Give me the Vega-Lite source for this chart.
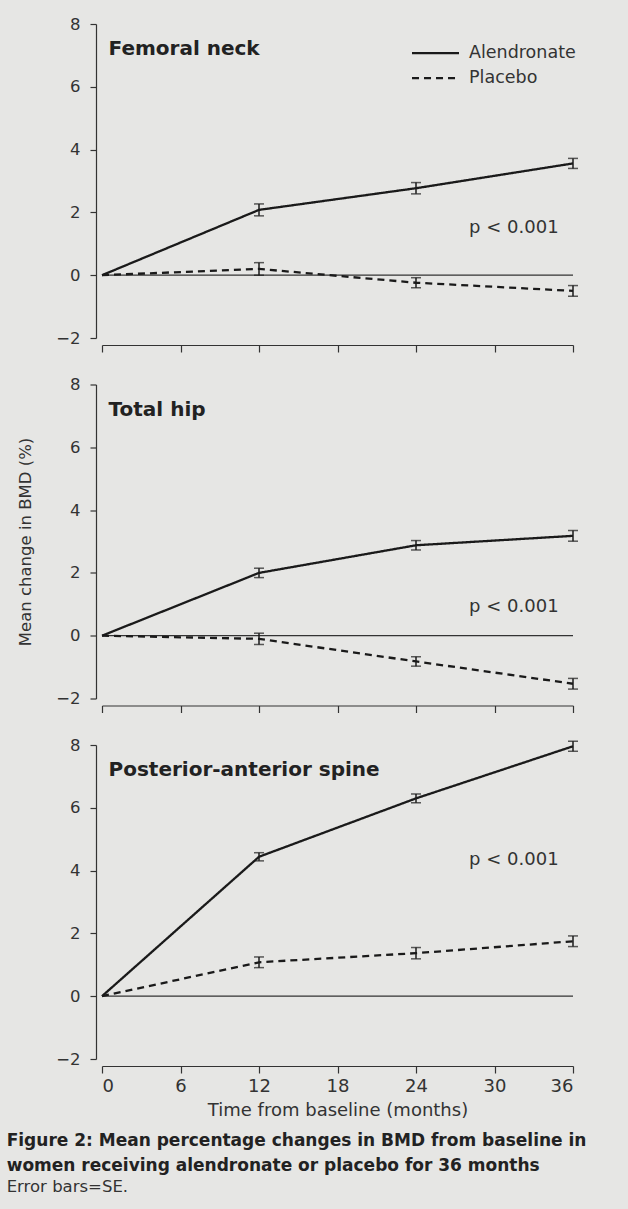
{
  "$schema": "https://vega.github.io/schema/vega-lite/v6.json",
  "background": "#e6e6e4",
  "padding": {"left": 6, "top": 16, "right": 42, "bottom": 15},
  "bounds": "flush",
  "spacing": 46.5,
  "datasets": {
    "bmd": [
      {"site": "Femoral neck", "group": "Alendronate", "month": 0, "mean": 0, "se": 0},
      {"site": "Femoral neck", "group": "Alendronate", "month": 12, "mean": 2.08, "se": 0.19},
      {"site": "Femoral neck", "group": "Alendronate", "month": 24, "mean": 2.77, "se": 0.18},
      {"site": "Femoral neck", "group": "Alendronate", "month": 36, "mean": 3.56, "se": 0.16},
      {"site": "Femoral neck", "group": "Placebo", "month": 0, "mean": 0, "se": 0},
      {"site": "Femoral neck", "group": "Placebo", "month": 12, "mean": 0.2, "se": 0.2},
      {"site": "Femoral neck", "group": "Placebo", "month": 24, "mean": -0.24, "se": 0.16},
      {"site": "Femoral neck", "group": "Placebo", "month": 36, "mean": -0.5, "se": 0.17},
      {"site": "Total hip", "group": "Alendronate", "month": 0, "mean": 0, "se": 0},
      {"site": "Total hip", "group": "Alendronate", "month": 12, "mean": 2.0, "se": 0.15},
      {"site": "Total hip", "group": "Alendronate", "month": 24, "mean": 2.88, "se": 0.15},
      {"site": "Total hip", "group": "Alendronate", "month": 36, "mean": 3.18, "se": 0.17},
      {"site": "Total hip", "group": "Placebo", "month": 0, "mean": 0, "se": 0},
      {"site": "Total hip", "group": "Placebo", "month": 12, "mean": -0.1, "se": 0.18},
      {"site": "Total hip", "group": "Placebo", "month": 24, "mean": -0.82, "se": 0.15},
      {"site": "Total hip", "group": "Placebo", "month": 36, "mean": -1.53, "se": 0.17},
      {"site": "Posterior-anterior spine", "group": "Alendronate", "month": 0, "mean": 0, "se": 0},
      {"site": "Posterior-anterior spine", "group": "Alendronate", "month": 12, "mean": 4.44, "se": 0.13},
      {"site": "Posterior-anterior spine", "group": "Alendronate", "month": 24, "mean": 6.3, "se": 0.14},
      {"site": "Posterior-anterior spine", "group": "Alendronate", "month": 36, "mean": 7.96, "se": 0.16},
      {"site": "Posterior-anterior spine", "group": "Placebo", "month": 0, "mean": 0, "se": 0},
      {"site": "Posterior-anterior spine", "group": "Placebo", "month": 12, "mean": 1.08, "se": 0.17},
      {"site": "Posterior-anterior spine", "group": "Placebo", "month": 24, "mean": 1.37, "se": 0.18},
      {"site": "Posterior-anterior spine", "group": "Placebo", "month": 36, "mean": 1.75, "se": 0.17}
    ]
  },
  "title": {
    "text": ["Figure 2: Mean percentage changes in BMD from baseline in", "women receiving alendronate or placebo for 36 months"],
    "subtitle": "Error bars=SE.",
    "orient": "bottom",
    "anchor": "start",
    "frame": "bounds",
    "font": "DejaVu Sans",
    "fontSize": 17,
    "fontWeight": "bold",
    "color": "#222",
    "lineHeight": 25,
    "subtitleFont": "DejaVu Sans",
    "subtitleFontSize": 16.5,
    "subtitleColor": "#333",
    "subtitlePadding": 4,
    "offset": 14,
    "dx": -11
  },
  "config": {
    "view": {"stroke": null},
    "axis": {
      "grid": false,
      "domainColor": "#333",
      "tickColor": "#333",
      "domainWidth": 1.2,
      "tickWidth": 1.2,
      "labelColor": "#333",
      "titleColor": "#333",
      "labelFont": "DejaVu Sans",
      "titleFont": "DejaVu Sans",
      "titleFontWeight": "normal"
    },
    "axisX": {"labelFontSize": 18, "titleFontSize": 18, "tickSize": 7, "offset": 7, "labelPadding": 4, "titlePadding": 6},
    "axisY": {"labelFontSize": 16.5, "titleFontSize": 16.5, "tickSize": 6, "offset": 6, "labelPadding": 10, "titlePadding": 22}
  },
  "resolve": {"scale": {"strokeDash": "independent"}, "legend": {"strokeDash": "independent"}},
  "vconcat": [
    {
      "width": 471, "height": 314,
      "data": {"name": "bmd"},
      "layer": [
        {
          "data": {"values": [{}]},
          "mark": {"type": "rule", "color": "#333", "strokeWidth": 1.2},
          "encoding": {
            "y": {"datum": 0, "type": "quantitative", "scale": {"domain": [-2, 8], "nice": false, "zero": false}, "axis": {"values": [-2, 0, 2, 4, 6, 8], "title": null}}
          }
        },
        {
          "transform": [{"filter": "datum.site === 'Femoral neck'"}],
          "mark": {"type": "line", "color": "#1a1a1a", "strokeWidth": 2.3},
          "encoding": {
            "x": {"field": "month", "type": "quantitative", "scale": {"domain": [0, 36], "nice": false}, "axis": {"values": [0, 6, 12, 18, 24, 30, 36], "labels": false, "title": null}},
            "y": {"field": "mean", "type": "quantitative", "scale": {"domain": [-2, 8], "nice": false, "zero": false}, "axis": {"values": [-2, 0, 2, 4, 6, 8], "title": null}},
            "strokeDash": {
              "field": "group", "type": "nominal",
              "scale": {"domain": ["Alendronate", "Placebo"], "range": [[1, 0], [7, 5]]},
              "legend": {"title": null, "orient": "none", "legendX": 323, "legendY": 18.6, "symbolType": "M-2.5,0H2.5", "symbolSize": 353, "symbolStrokeWidth": 2.2, "symbolStrokeColor": "#1a1a1a", "labelOffset": 23, "labelFontSize": 17.5, "labelFont": "DejaVu Sans", "labelColor": "#333", "rowPadding": 6, "padding": 0}
            }
          }
        },
        {
          "transform": [{"filter": "datum.site === 'Femoral neck' && datum.month > 0"}],
          "mark": {"type": "errorbar", "color": "#1a1a1a", "thickness": 1.5, "ticks": {"size": 10, "thickness": 1.5}},
          "encoding": {
            "x": {"field": "month", "type": "quantitative", "scale": {"domain": [0, 36], "nice": false}, "axis": {"values": [0, 6, 12, 18, 24, 30, 36], "labels": false, "title": null}},
            "y": {"field": "mean", "type": "quantitative", "scale": {"domain": [-2, 8], "nice": false, "zero": false}, "axis": {"values": [-2, 0, 2, 4, 6, 8], "title": null}},
            "yError": {"field": "se"}
          }
        },
        {
          "data": {"values": [{}]},
          "mark": {"type": "text", "text": "Femoral neck", "font": "DejaVu Sans", "fontSize": 20, "fontWeight": "bold", "color": "#222", "align": "left", "baseline": "alphabetic"},
          "encoding": {
            "x": {"datum": 0.5, "type": "quantitative", "scale": {"domain": [0, 36], "nice": false}, "axis": {"values": [0, 6, 12, 18, 24, 30, 36], "labels": false, "title": null}},
            "y": {"datum": 7.0, "type": "quantitative", "scale": {"domain": [-2, 8], "nice": false, "zero": false}, "axis": {"values": [-2, 0, 2, 4, 6, 8], "title": null}}
          }
        },
        {
          "data": {"values": [{}]},
          "mark": {"type": "text", "text": "p < 0.001", "font": "DejaVu Sans", "fontSize": 18, "color": "#333", "align": "left", "baseline": "alphabetic"},
          "encoding": {
            "x": {"datum": 28.06, "type": "quantitative", "scale": {"domain": [0, 36], "nice": false}, "axis": {"values": [0, 6, 12, 18, 24, 30, 36], "labels": false, "title": null}},
            "y": {"datum": 1.33, "type": "quantitative", "scale": {"domain": [-2, 8], "nice": false, "zero": false}, "axis": {"values": [-2, 0, 2, 4, 6, 8], "title": null}}
          }
        }
      ]
    },
    {
      "width": 471, "height": 314,
      "data": {"name": "bmd"},
      "layer": [
        {
          "data": {"values": [{}]},
          "mark": {"type": "rule", "color": "#333", "strokeWidth": 1.2},
          "encoding": {
            "y": {"datum": 0, "type": "quantitative", "scale": {"domain": [-2, 8], "nice": false, "zero": false}, "axis": {"values": [-2, 0, 2, 4, 6, 8], "title": "Mean change in BMD (%)"}}
          }
        },
        {
          "transform": [{"filter": "datum.site === 'Total hip'"}],
          "mark": {"type": "line", "color": "#1a1a1a", "strokeWidth": 2.3},
          "encoding": {
            "x": {"field": "month", "type": "quantitative", "scale": {"domain": [0, 36], "nice": false}, "axis": {"values": [0, 6, 12, 18, 24, 30, 36], "labels": false, "title": null}},
            "y": {"field": "mean", "type": "quantitative", "scale": {"domain": [-2, 8], "nice": false, "zero": false}, "axis": {"values": [-2, 0, 2, 4, 6, 8], "title": "Mean change in BMD (%)"}},
            "strokeDash": {
              "field": "group", "type": "nominal",
              "scale": {"domain": ["Alendronate", "Placebo"], "range": [[1, 0], [7, 5]]},
              "legend": null
            }
          }
        },
        {
          "transform": [{"filter": "datum.site === 'Total hip' && datum.month > 0"}],
          "mark": {"type": "errorbar", "color": "#1a1a1a", "thickness": 1.5, "ticks": {"size": 10, "thickness": 1.5}},
          "encoding": {
            "x": {"field": "month", "type": "quantitative", "scale": {"domain": [0, 36], "nice": false}, "axis": {"values": [0, 6, 12, 18, 24, 30, 36], "labels": false, "title": null}},
            "y": {"field": "mean", "type": "quantitative", "scale": {"domain": [-2, 8], "nice": false, "zero": false}, "axis": {"values": [-2, 0, 2, 4, 6, 8], "title": "Mean change in BMD (%)"}},
            "yError": {"field": "se"}
          }
        },
        {
          "data": {"values": [{}]},
          "mark": {"type": "text", "text": "Total hip", "font": "DejaVu Sans", "fontSize": 20, "fontWeight": "bold", "color": "#222", "align": "left", "baseline": "alphabetic"},
          "encoding": {
            "x": {"datum": 0.5, "type": "quantitative", "scale": {"domain": [0, 36], "nice": false}, "axis": {"values": [0, 6, 12, 18, 24, 30, 36], "labels": false, "title": null}},
            "y": {"datum": 7.0, "type": "quantitative", "scale": {"domain": [-2, 8], "nice": false, "zero": false}, "axis": {"values": [-2, 0, 2, 4, 6, 8], "title": "Mean change in BMD (%)"}}
          }
        },
        {
          "data": {"values": [{}]},
          "mark": {"type": "text", "text": "p < 0.001", "font": "DejaVu Sans", "fontSize": 18, "color": "#333", "align": "left", "baseline": "alphabetic"},
          "encoding": {
            "x": {"datum": 28.06, "type": "quantitative", "scale": {"domain": [0, 36], "nice": false}, "axis": {"values": [0, 6, 12, 18, 24, 30, 36], "labels": false, "title": null}},
            "y": {"datum": 0.77, "type": "quantitative", "scale": {"domain": [-2, 8], "nice": false, "zero": false}, "axis": {"values": [-2, 0, 2, 4, 6, 8], "title": "Mean change in BMD (%)"}}
          }
        }
      ]
    },
    {
      "width": 471, "height": 314,
      "data": {"name": "bmd"},
      "layer": [
        {
          "data": {"values": [{}]},
          "mark": {"type": "rule", "color": "#333", "strokeWidth": 1.2},
          "encoding": {
            "y": {"datum": 0, "type": "quantitative", "scale": {"domain": [-2, 8], "nice": false, "zero": false}, "axis": {"values": [-2, 0, 2, 4, 6, 8], "title": null}}
          }
        },
        {
          "transform": [{"filter": "datum.site === 'Posterior-anterior spine'"}],
          "mark": {"type": "line", "color": "#1a1a1a", "strokeWidth": 2.3},
          "encoding": {
            "x": {"field": "month", "type": "quantitative", "scale": {"domain": [0, 36], "nice": false}, "axis": {"values": [0, 6, 12, 18, 24, 30, 36], "title": "Time from baseline (months)"}},
            "y": {"field": "mean", "type": "quantitative", "scale": {"domain": [-2, 8], "nice": false, "zero": false}, "axis": {"values": [-2, 0, 2, 4, 6, 8], "title": null}},
            "strokeDash": {
              "field": "group", "type": "nominal",
              "scale": {"domain": ["Alendronate", "Placebo"], "range": [[1, 0], [7, 5]]},
              "legend": null
            }
          }
        },
        {
          "transform": [{"filter": "datum.site === 'Posterior-anterior spine' && datum.month > 0"}],
          "mark": {"type": "errorbar", "color": "#1a1a1a", "thickness": 1.5, "ticks": {"size": 10, "thickness": 1.5}},
          "encoding": {
            "x": {"field": "month", "type": "quantitative", "scale": {"domain": [0, 36], "nice": false}, "axis": {"values": [0, 6, 12, 18, 24, 30, 36], "title": "Time from baseline (months)"}},
            "y": {"field": "mean", "type": "quantitative", "scale": {"domain": [-2, 8], "nice": false, "zero": false}, "axis": {"values": [-2, 0, 2, 4, 6, 8], "title": null}},
            "yError": {"field": "se"}
          }
        },
        {
          "data": {"values": [{}]},
          "mark": {"type": "text", "text": "Posterior-anterior spine", "font": "DejaVu Sans", "fontSize": 20, "fontWeight": "bold", "color": "#222", "align": "left", "baseline": "alphabetic"},
          "encoding": {
            "x": {"datum": 0.5, "type": "quantitative", "scale": {"domain": [0, 36], "nice": false}, "axis": {"values": [0, 6, 12, 18, 24, 30, 36], "title": "Time from baseline (months)"}},
            "y": {"datum": 7.0, "type": "quantitative", "scale": {"domain": [-2, 8], "nice": false, "zero": false}, "axis": {"values": [-2, 0, 2, 4, 6, 8], "title": null}}
          }
        },
        {
          "data": {"values": [{}]},
          "mark": {"type": "text", "text": "p < 0.001", "font": "DejaVu Sans", "fontSize": 18, "color": "#333", "align": "left", "baseline": "alphabetic"},
          "encoding": {
            "x": {"datum": 28.06, "type": "quantitative", "scale": {"domain": [0, 36], "nice": false}, "axis": {"values": [0, 6, 12, 18, 24, 30, 36], "title": "Time from baseline (months)"}},
            "y": {"datum": 4.18, "type": "quantitative", "scale": {"domain": [-2, 8], "nice": false, "zero": false}, "axis": {"values": [-2, 0, 2, 4, 6, 8], "title": null}}
          }
        }
      ]
    }
  ]
}
